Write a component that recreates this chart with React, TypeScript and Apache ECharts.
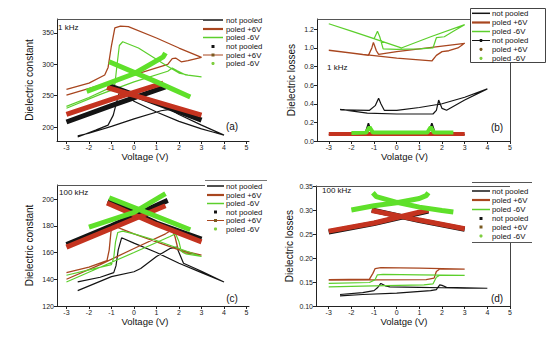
import React, { useEffect, useRef } from "react";
import * as echarts from "echarts";

type P = [number, number];

// ---------- tick labels ----------
const X_TICKS = [-3, -2, -1, 0, 1, 2, 3, 4, 5];
const A_Y_TICKS = [200, 250, 300, 350];
const B_Y_TICKS = [0, 0.2, 0.4, 0.6, 0.8, 1.0, 1.2];
const C_Y_TICKS = [120, 140, 160, 180, 200];
const D_Y_TICKS = [0.1, 0.15, 0.2, 0.25, 0.3, 0.35];

const LEGEND_LABELS = ["not pooled", "poled +6V", "poled -6V", "not pooled", "poled +6V", "poled -6V"];

// ---------- (a) 1 kHz dielectric constant ----------
const A_NP_LOOP: P[] = [[-2.5, 184], [-1.7, 195], [-1.15, 203], [-0.92, 219], [-0.77, 240], [-0.65, 255], [-0.5, 258], [0, 241], [1, 224], [2, 209], [3, 197], [3.5, 192], [4, 187],
  [3, 203], [2, 220], [1.6, 228], [1.2, 226], [0, 213], [-1, 201], [-2, 190], [-2.5, 186]];
const A_P6_LOOP: P[] = [[-3, 260], [-2, 270], [-1.3, 283], [-1.15, 295], [-1.0, 330], [-0.85, 358], [-0.6, 361], [-0.25, 360], [1, 342], [2, 326], [3, 311],
  [2.4, 306], [2.1, 304], [1.85, 310], [1.7, 309], [1.5, 300], [0, 283], [-1.5, 267], [-3, 251]];
const A_N6_LOOP: P[] = [[-3, 233], [-2, 247], [-1.1, 262], [-0.85, 268], [-0.75, 300], [-0.65, 330], [-0.5, 336], [0.2, 326], [1.4, 299], [2, 286], [2.4, 283], [3, 280],
  [2.3, 283], [1.9, 290], [1.7, 294], [1.5, 289], [0, 272], [-1.5, 252], [-3, 230]];
const A_NP_UP: P[] = [[-3, 208], [-1, 234], [1.4, 264]];
const A_NP_DN: P[] = [[-1.1, 266], [1, 238], [3, 211]];
const A_P6_UP: P[] = [[-3, 220], [-1, 244], [1.3, 270]];
const A_P6_DN: P[] = [[-1.2, 263], [1, 240], [3, 219]];
const A_N6_UP: P[] = [[-2.1, 257], [0, 285], [1.3, 312], [1.4, 318]];
const A_N6_DN: P[] = [[-1.1, 304], [1, 272], [2.5, 248]];

// ---------- (b) 1 kHz dielectric losses ----------
const B_NP_LOOP: P[] = [[-2.5, 0.34], [-1.3, 0.30], [0, 0.29], [1.0, 0.29], [1.6, 0.29], [1.75, 0.33], [1.85, 0.44], [2.0, 0.35], [2.2, 0.33], [3, 0.44], [4, 0.56],
  [3, 0.47], [2, 0.40], [1, 0.36], [0, 0.33], [-0.55, 0.33], [-0.7, 0.40], [-0.8, 0.46], [-0.95, 0.38], [-1.2, 0.33], [-2.5, 0.335]];
const B_P6_LOOP: P[] = [[-3, 0.975], [-2, 0.945], [-1.25, 0.92], [-1.1, 1.0], [-1.03, 1.06], [-0.9, 0.97], [-0.8, 0.93], [0, 0.96], [1, 0.99], [2, 1.02], [3, 1.05],
  [2.7, 1.0], [2.3, 0.97], [2.0, 0.96], [1.75, 0.92], [1.55, 0.86], [0, 0.89], [-1.5, 0.93], [-3, 0.975]];
const B_N6_LOOP: P[] = [[-3, 1.26], [-2, 1.18], [-1.0, 1.1], [-0.85, 1.18], [-0.75, 1.12], [-0.6, 0.99], [0, 0.985], [1, 0.99], [1.6, 1.0], [1.75, 1.11], [2.1, 1.12], [2.5, 1.18], [3, 1.25],
  [1.5, 1.12], [0.2, 1.0], [-1.5, 1.14], [-3, 1.26]];
const B_NP_BAND: P[] = [[-3, 0.07], [-1.4, 0.075], [-1.25, 0.19], [-1.1, 0.08], [1.4, 0.08], [1.55, 0.19], [1.7, 0.08], [3, 0.07]];
const B_P6_BAND: P[] = [[-3, 0.075], [0, 0.075], [3, 0.075]];
const B_N6_BAND: P[] = [[-2, 0.085], [-1.35, 0.09], [-1.2, 0.15], [-1.05, 0.09], [1.35, 0.09], [1.5, 0.15], [1.65, 0.09], [2.5, 0.09]];

// ---------- (c) 100 kHz dielectric constant ----------
const C_NP_LOOP: P[] = [[-2.5, 138], [-1.5, 141.5], [-0.9, 145], [-0.8, 150], [-0.7, 162], [-0.55, 171], [0, 167], [1, 160], [2, 152], [3, 145], [4, 138],
  [3, 146], [2.2, 152], [2.05, 158], [1.9, 164], [1.6, 163], [1, 157], [0.3, 148], [0, 145.6], [-1, 142], [-2.5, 131.5]];
const C_P6_LOOP: P[] = [[-3, 145], [-2, 149], [-1.2, 154], [-1.1, 162], [-1.02, 176], [-0.9, 180], [0, 174], [1, 168], [2, 162], [3, 158],
  [2.2, 160], [1.95, 163], [1.82, 172], [1.7, 177], [1.4, 174], [0, 163], [-1.5, 151], [-3, 140]];
const C_N6_LOOP: P[] = [[-3, 143], [-2, 147], [-1.0, 151], [-0.9, 156], [-0.82, 168], [-0.72, 175], [-0.5, 176], [0, 174], [1, 169], [2, 163], [3, 157],
  [2.3, 159], [2.1, 161], [2.0, 168], [1.85, 174], [1.6, 172], [0, 160], [-1.5, 149], [-3, 138]];
const C_NP_UP: P[] = [[-3, 166], [-1, 180], [1.5, 199]];
const C_NP_DN: P[] = [[-1.15, 199], [1, 182], [3, 170]];
const C_P6_UP: P[] = [[-3, 164], [-1, 178], [1.4, 195]];
const C_P6_DN: P[] = [[-1.2, 197], [1, 181], [3, 168]];
const C_N6_UP: P[] = [[-2, 179], [0, 190], [1.4, 204]];
const C_N6_DN: P[] = [[-1.1, 201], [1, 187], [2.5, 177]];

// ---------- (d) 100 kHz dielectric losses ----------
const D_NP_LOOP: P[] = [[-2.5, 0.124], [-1.5, 0.128], [-1.0, 0.132], [-0.85, 0.138], [-0.7, 0.147], [-0.5, 0.142], [-0.3, 0.140], [1, 0.139], [2, 0.138], [3, 0.137], [4, 0.137],
  [2.2, 0.139], [2.0, 0.143], [1.9, 0.144], [1.75, 0.134], [1.5, 0.132], [0, 0.127], [-1.5, 0.124], [-2.5, 0.121]];
const D_P6_LOOP: P[] = [[-3, 0.155], [-1.2, 0.156], [-1.05, 0.168], [-0.95, 0.178], [-0.7, 0.18], [1, 0.179], [3, 0.177],
  [1.9, 0.177], [1.75, 0.172], [1.65, 0.158], [1.3, 0.155], [-3, 0.154]];
const D_N6_LOOP: P[] = [[-3, 0.147], [-1.2, 0.149], [-0.95, 0.155], [-0.85, 0.165], [-0.6, 0.166], [1, 0.165], [3, 0.164],
  [1.9, 0.164], [1.75, 0.16], [1.6, 0.146], [1.2, 0.144], [-1, 0.142], [-3, 0.140]];
const D_NP_UP: P[] = [[-3, 0.254], [-1, 0.272], [1.4, 0.298]];
const D_NP_DN: P[] = [[-1.1, 0.300], [1, 0.278], [3, 0.260]];
const D_P6_UP: P[] = [[-3, 0.256], [-1, 0.273], [1.4, 0.300]];
const D_P6_DN: P[] = [[-1.1, 0.299], [1, 0.279], [3, 0.261]];
const D_N6_UP: P[] = [[-2, 0.300], [-1, 0.309], [0, 0.315], [1, 0.324], [1.3, 0.33], [1.4, 0.336]];
const D_N6_DN: P[] = [[-1.05, 0.336], [-0.9, 0.328], [0, 0.316], [1, 0.306], [2, 0.299], [2.5, 0.296]];

// ---------- styles ----------
const BLACK = "#141414";
const BROWN = "#a8461f";
const GREEN = "#5ccf2c";
const RED = "#c4331f";
const GREEN_BAND = "#5fe02a";
const AXIS = "#222";
const FONT = "Liberation Sans, Arial, sans-serif";

type Panel = {
  grid: { left: number; top: number; width: number; height: number };
  xMin: number; xMax: number; yMin: number; yMax: number;
  yTicks: number[]; yDec: number;
  xName: string; yName: string;
  xNameGap: number; yNameGap: number; xShift: number;
  loops: P[][];
  bands: P[][][];
  bandWidth: number;
};

const PANELS: Panel[] = [
  {
    grid: { left: 57, top: 19, width: 192, height: 122 },
    xMin: -3.42, xMax: 5.11, yMin: 177.7, yMax: 372.3, yTicks: A_Y_TICKS, yDec: 0,
    xName: "Voltage (V)", yName: "Dielectric constant", xNameGap: 10, yNameGap: 23, xShift: 8,
    loops: [A_NP_LOOP, A_P6_LOOP, A_N6_LOOP],
    bands: [[A_NP_UP, A_NP_DN], [A_P6_UP, A_P6_DN], [A_N6_UP, A_N6_DN]], bandWidth: 5,
  },
  {
    grid: { left: 317, top: 19, width: 193, height: 122 },
    xMin: -3.52, xMax: 5.0, yMin: 0, yMax: 1.311, yTicks: B_Y_TICKS, yDec: 1,
    xName: "Volatge (V)", yName: "Dielectric losses", xNameGap: 10, yNameGap: 21, xShift: 9,
    loops: [B_NP_LOOP, B_P6_LOOP, B_N6_LOOP],
    bands: [[B_NP_BAND], [B_P6_BAND], [B_N6_BAND]], bandWidth: 4,
  },
  {
    grid: { left: 57, top: 185, width: 192, height: 121 },
    xMin: -3.42, xMax: 5.11, yMin: 120, yMax: 210.5, yTicks: C_Y_TICKS, yDec: 0,
    xName: "Voltage (V)", yName: "Dielectric constant", xNameGap: 10, yNameGap: 23, xShift: 8,
    loops: [C_NP_LOOP, C_P6_LOOP, C_N6_LOOP],
    bands: [[C_NP_UP, C_NP_DN], [C_P6_UP, C_P6_DN], [C_N6_UP, C_N6_DN]], bandWidth: 5,
  },
  {
    grid: { left: 316, top: 186, width: 194, height: 120 },
    xMin: -3.56, xMax: 5.0, yMin: 0.1, yMax: 0.35, yTicks: D_Y_TICKS, yDec: 2,
    xName: "Volatge (V)", yName: "Dielectric losses", xNameGap: 9, yNameGap: 22, xShift: 9,
    loops: [D_NP_LOOP, D_P6_LOOP, D_N6_LOOP],
    bands: [[D_NP_UP, D_NP_DN], [D_P6_UP, D_P6_DN], [D_N6_UP, D_N6_DN]], bandWidth: 5,
  },
];

const LOOP_COLORS = [BLACK, BROWN, GREEN];
const BAND_COLORS = [BLACK, RED, GREEN_BAND];

function buildOption() {
  const grid: any[] = [];
  const xAxis: any[] = [];
  const yAxis: any[] = [];
  const series: any[] = [];
  PANELS.forEach((p, i) => {
    grid.push({ ...p.grid, containLabel: false });
    xAxis.push({
      type: "value", gridIndex: i, min: p.xMin, max: p.xMax,
      axisLine: { show: true, onZero: false, lineStyle: { color: AXIS, width: 1 } },
      axisTick: { show: true, customValues: X_TICKS, length: 3, lineStyle: { color: AXIS } },
      axisLabel: { customValues: X_TICKS, fontSize: 7, margin: 3, color: AXIS, fontFamily: FONT },
      splitLine: { show: false },
      name: p.xName, nameLocation: "middle", nameGap: p.xNameGap,
      nameTextStyle: { fontSize: 9.5, color: "#111", fontFamily: FONT, padding: [0, p.xShift * 2, 0, 0] },
    });
    yAxis.push({
      type: "value", gridIndex: i, min: p.yMin, max: p.yMax,
      axisLine: { show: true, onZero: false, lineStyle: { color: AXIS, width: 1 } },
      axisTick: { show: true, customValues: p.yTicks, length: 3, lineStyle: { color: AXIS } },
      axisLabel: {
        customValues: p.yTicks, fontSize: 7, margin: 3, color: AXIS, fontFamily: FONT,
        formatter: (v: number) => v.toFixed(p.yDec),
      },
      splitLine: { show: false },
      name: p.yName, nameLocation: "middle", nameGap: p.yNameGap, nameRotate: 90,
      nameTextStyle: { fontSize: 10, color: "#111", fontFamily: FONT },
    });
    p.loops.forEach((d, k) => {
      series.push({
        type: "line", xAxisIndex: i, yAxisIndex: i, data: d, symbol: "none", showSymbol: false,
        lineStyle: { color: LOOP_COLORS[k], width: k === 1 ? 1.3 : 1.2 }, z: 2, silent: true,
      });
    });
    [1, 0, 2].forEach((k) => {
      p.bands[k].forEach((d) => {
        const thin = i === 1 && k === 0;
        series.push({
          type: "line", xAxisIndex: i, yAxisIndex: i, data: d, symbol: "none", showSymbol: false,
          lineStyle: { color: BAND_COLORS[k], width: thin ? 1.5 : p.bandWidth, cap: "butt" }, z: 3 + k, silent: true,
        });
      });
    });
  });

  // ---------- decorations (frame lines, legends, labels) ----------
  const g: any[] = [];
  const line = (x1: number, y1: number, x2: number, y2: number, color = "#444", w = 1) =>
    g.push({ type: "line", silent: true, z: 10, shape: { x1, y1, x2, y2 }, style: { stroke: color, lineWidth: w } });
  const text = (s: string, x: number, y: number, size: number, align = "left") =>
    g.push({ type: "text", silent: true, z: 12, x, y, style: { text: s, fill: "#111", font: `${size}px ${FONT}`, textAlign: align, textVerticalAlign: "middle" } });

  // top frame lines & right lines
  line(57, 19.5, 203, 19.5, "#555");
  line(317, 19.5, 470, 19.5, "#555");
  line(57, 185.5, 205, 185.5, "#555");
  line(205, 180.5, 267, 180.5, "#777");
  line(316, 186.5, 510, 186.5, "#555");
  line(510.5, 62, 510.5, 141, "#444");
  line(510.5, 242, 510.5, 306, "#444");
  line(472, 182.5, 532, 182.5, "#555");
  line(472, 242.5, 532, 242.5, "#555");
  // legend box (b)
  g.push({ type: "rect", silent: true, z: 9, shape: { x: 470.5, y: 8.5, width: 75, height: 54 }, style: { fill: "#fff", stroke: "#444", lineWidth: 1 } });

  type Kind = "line" | "lineMarker" | "lineDot" | "square" | "dot";
  const legend = (x1: number, x2: number, tx: number, rows: number[], kinds: Kind[]) => {
    const cols = [BLACK, BROWN, GREEN, BLACK, BROWN, GREEN];
    rows.forEach((y, r) => {
      const c = cols[r];
      const kind = kinds[r];
      const mx = (x1 + x2) / 2;
      if (kind === "line") line(x1, y, x2, y, c, r === 1 ? 2.2 : 1.5);
      if (kind === "lineMarker" || kind === "lineDot") line(x1, y, x2, y, c, 1);
      if (kind === "square" || kind === "lineMarker")
        g.push({ type: "rect", silent: true, z: 11, shape: { x: mx - 1.5, y: y - 1.5, width: 3, height: 3 }, style: { fill: r === 4 ? "#7a5a20" : c } });
      if (kind === "dot" || kind === "lineDot")
        g.push({ type: "circle", silent: true, z: 11, shape: { cx: mx, cy: y, r: 1.6 }, style: { fill: r === 4 ? "#7a5a20" : r === 5 ? "#7fcf40" : c } });
      text(LEGEND_LABELS[r], tx, y, 7.8);
    });
  };
  legend(203, 223, 226, [20, 29, 37.5, 46.5, 55, 63.5], ["line", "line", "line", "square", "lineMarker", "dot"]);
  legend(472, 490, 492, [13.3, 22.5, 31.5, 40.5, 49.3, 58.3], ["line", "line", "line", "lineDot", "dot", "dot"]);
  legend(207, 224, 226, [186, 195, 203.5, 212, 220.5, 229], ["line", "line", "line", "square", "lineMarker", "dot"]);
  legend(472, 490, 492, [191, 200, 209.5, 218.5, 227, 236], ["line", "line", "line", "square", "square", "dot"]);

  text("1 kHz", 58, 27, 8);
  text("(a)", 232, 126, 10, "center");
  text("1 kHz", 327, 67, 8);
  text("(b)", 497, 127, 10, "center");
  text("100 kHz", 59, 192, 8);
  text("(c)", 232, 298, 10, "center");
  text("100 kHz", 322, 190, 8);
  text("(d)", 497, 298, 10, "center");

  return {
    animation: false,
    backgroundColor: "#fff",
    textStyle: { fontFamily: FONT },
    grid, xAxis, yAxis, series, graphic: g,
  };
}

export default function App() {
  const ref = useRef<HTMLDivElement>(null);
  useEffect(() => {
    if (!ref.current) return;
    const chart = echarts.init(ref.current, undefined, { renderer: "svg" });
    chart.setOption(buildOption() as any);
    return () => chart.dispose();
  }, []);
  return <div ref={ref} style={{ position: "fixed", left: 0, top: 0, width: 550, height: 349, background: "#fff" }} />;
}
